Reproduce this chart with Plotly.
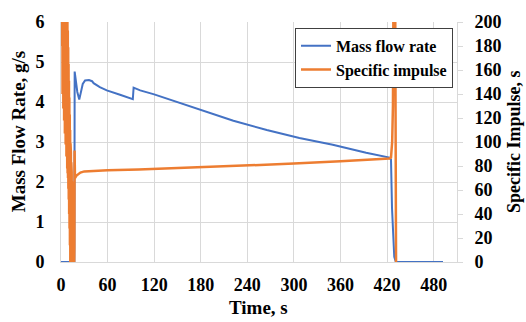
import plotly.graph_objects as go

# Mass flow rate (left axis), g/s
time_flow = [0, 17.2, 17.6, 19, 21, 23.5, 26, 28, 31, 36, 40, 42, 50, 59, 76, 92.5,
             93.5, 96, 102, 120, 142, 144, 160, 179, 205, 222, 265, 307, 350, 393,
             423, 425, 426.3, 428, 429.2, 431.3, 492]
mass_flow = [0, 0, 4.76, 4.55, 4.25, 4.06, 4.3, 4.45, 4.54, 4.55, 4.52, 4.47, 4.37, 4.29,
             4.18, 4.07, 4.36, 4.34, 4.29, 4.19, 4.05, 4.04, 3.94, 3.82, 3.65, 3.53,
             3.30, 3.10, 2.93, 2.73, 2.61, 2.56, 1.35, 0.5, 0.13, 0, 0]

# Specific impulse (right axis), s
time_isp = [0, 0.5, 1, 1.5, 2, 2.5, 3, 3.5, 4, 4.5, 5, 5.5, 6, 6.5, 7, 7.5,
            8, 8.25, 8.5, 8.75, 9, 9.25, 9.5, 9.75, 10, 10.25, 10.5, 10.75, 11, 11.25,
            11.5, 11.75, 12, 12.25, 12.5, 12.75, 13, 13.25, 13.5, 13.75, 14, 14.25,
            14.5, 14.75, 15, 15.25, 15.5, 15.75, 16, 16.25, 16.5, 16.75, 17, 17.25,
            17.5, 18, 20, 25, 30, 40, 60, 100, 140, 180, 240, 300, 360, 400, 423, 425,
            426.5, 427.5, 429.5, 431.5]
isp = [260, 330, 180, 330, 140, 330, 128, 330, 118, 330, 107, 330, 98, 330, 88, 330,
       78, 208, 74, 193, 70, 179, 61, 165, 52, 151, 40, 137, 28, 123,
       14, 110, 0, 99, 0, 91, 0, 83, 0, 75, 0, 67,
       0, 59, 0, 51, 0, 43, 0, 35, 0, 27, 0, 12,
       93, 70, 72, 74.5, 75.5, 76, 76.5, 77, 78, 79, 80.3, 82, 84, 85.3, 86.3, 87,
       100, 130, 400, 0]

x_ticks = [0, 60, 120, 180, 240, 300, 360, 420, 480]

FONT = "Liberation Serif"
GRID = "#D9D9D9"

fig = go.Figure()
fig.add_trace(go.Scatter(x=time_flow, y=mass_flow, name="Mass flow rate", mode="lines",
                         line=dict(color="#4472C4", width=2)))
fig.add_trace(go.Scatter(x=time_isp, y=isp, name="Specific impulse", mode="lines",
                         yaxis="y2", line=dict(color="#ED7D31", width=2.5)))

fig.update_layout(
    width=526, height=322,
    margin=dict(l=61, r=69, t=16, b=60),
    paper_bgcolor="white", plot_bgcolor="white",
    font=dict(family=FONT, size=18, color="black", weight="bold"),
    showlegend=True,
    legend=dict(x=(295 - 61) / 396, y=0.9756, xanchor="left", yanchor="top",
                bgcolor="white", bordercolor="#404040", borderwidth=1,
                font=dict(size=16), itemwidth=30, tracegroupgap=0),
    xaxis=dict(range=[0, 510], tickvals=x_ticks, showgrid=True, gridcolor=GRID,
               showline=True, linecolor=GRID, zeroline=False, ticks="",
               ticklabelstandoff=6),
    yaxis=dict(range=[0, 6], dtick=1, showgrid=True, gridcolor=GRID,
               showline=True, linecolor=GRID, zeroline=False, ticks="",
               ticklabelstandoff=12),
    yaxis2=dict(range=[0, 200], dtick=20, overlaying="y", side="right",
                showgrid=False, showline=True, linecolor=GRID, zeroline=False,
                ticks="outside", ticklen=5, tickcolor=GRID, ticklabelstandoff=8),
)

fig.add_annotation(text="Mass Flow Rate, g/s", textangle=-90, xref="paper", yref="paper",
                   x=(18 - 61) / 396, y=(262 - 129) / 246, xanchor="center",
                   yanchor="middle", showarrow=False, font=dict(size=19))
fig.add_annotation(text="Specific Impulse, s", textangle=-90, xref="paper", yref="paper",
                   x=(514 - 61) / 396, y=(262 - 139) / 246, xanchor="center",
                   yanchor="middle", showarrow=False, font=dict(size=18))
fig.add_annotation(text="Time, s", xref="paper", yref="paper",
                   x=(258 - 61) / 396, y=(262 - 309) / 246, xanchor="center",
                   yanchor="middle", showarrow=False, font=dict(size=19))

fig.write_html("out.html")
